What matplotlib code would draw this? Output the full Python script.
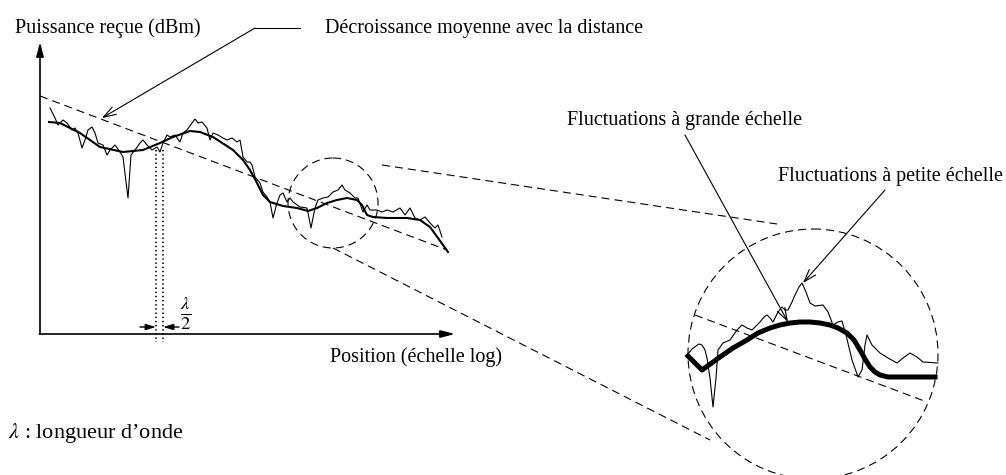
import numpy as np
import matplotlib.pyplot as plt
from matplotlib.patches import Circle

plt.rcParams['font.family'] = ['Liberation Serif', 'DejaVu Serif']
plt.rcParams['mathtext.fontset'] = 'stix'
plt.rcParams['lines.scale_dashes'] = False

# main plot: slow (shadowing) curve
slow_x = [49, 60, 80, 100, 123, 143, 160, 173, 190, 200, 213, 233, 243, 250, 257, 263, 270, 283,
          297, 308, 317, 327, 337, 347, 357, 362, 367, 373, 387, 407, 420, 430, 438, 448]
slow_y = [122, 123, 133, 147, 152, 150, 143, 137, 131, 132, 137, 150, 160, 170, 183, 195, 202, 206,
          208, 211, 208, 203, 200, 198, 200, 205, 215, 217, 218, 218, 220, 227, 238, 252]

# main plot: fast fading curve
fast_x = [50, 55, 58, 63, 67, 72, 75, 78, 82, 85, 88, 92, 95, 98, 103, 107, 110, 115, 120, 123,
          128, 131, 135, 140, 143, 147, 152, 157, 160, 163, 167, 170, 175, 180, 183, 187, 192, 195,
          198, 202, 207, 210, 213, 218, 223, 227, 232, 237, 240, 243, 247, 250, 252, 255, 260, 263,
          267, 270, 273, 277, 280, 283, 287, 290, 293, 300, 307, 311, 315, 318, 323, 328, 333, 338,
          342, 345, 350, 355, 358, 363, 367, 370, 377, 382, 387, 393, 400, 405, 410, 415, 420, 425,
          430, 435, 438, 442]
fast_y = [108, 118, 125, 120, 123, 130, 128, 133, 148, 140, 130, 127, 133, 143, 145, 155, 150, 145,
          152, 157, 198, 155, 150, 143, 140, 145, 150, 147, 152, 143, 135, 137, 135, 142, 133, 130,
          123, 119, 123, 122, 128, 140, 133, 135, 138, 140, 138, 142, 140, 157, 162, 162, 165, 177,
          183, 192, 197, 202, 218, 203, 195, 193, 202, 198, 202, 207, 208, 228, 208, 200, 198, 197,
          192, 190, 185, 190, 193, 198, 198, 212, 205, 210, 210, 212, 210, 212, 208, 215, 208, 218,
          220, 217, 223, 228, 225, 237]

# zoomed view: slow curve
zslow_x = [688, 702, 720, 733, 747, 758, 770, 780, 790, 800, 810, 820, 830, 838, 847, 854, 860,
           865, 870, 875, 880, 888, 897, 935]
zslow_y = [356, 370, 357, 348, 340, 333, 328, 325, 323, 322, 322, 323, 325, 328, 333, 340, 350,
           359, 367, 372, 375, 377, 377, 377]

# zoomed view: fast curve
zfast_x = [688, 692, 696, 699, 702, 705, 707, 710, 713, 716, 718, 723, 730, 737, 742, 747, 752,
           756, 760, 764, 767, 770, 773, 778, 782, 785, 788, 792, 795, 799, 802, 806, 810, 815,
           823, 828, 833, 838, 842, 846, 852, 858, 862, 865, 867, 872, 880, 888, 897, 903, 910,
           917, 923, 938]
zfast_y = [354, 349, 346, 344, 345, 350, 358, 378, 407, 378, 350, 343, 340, 330, 325, 328, 330,
           326, 322, 317, 315, 318, 322, 312, 307, 310, 310, 302, 295, 287, 283, 292, 303, 306,
           305, 312, 325, 322, 321, 335, 360, 377, 370, 345, 335, 345, 353, 358, 363, 358, 353,
           357, 362, 363]

# mean decay lines
trend_x = [40, 447]
trend_y = [96, 250]
ztrend_x = [695, 927]
ztrend_y = [315, 402]

# zoom projection lines and circles
proj_top_x = [382, 777]
proj_top_y = [165, 224]
proj_bot_x = [333, 710]
proj_bot_y = [248, 440]
small_circle = (333, 203, 45)
big_circle = (813, 354, 125)

# half-wavelength markers
half_wave_x = [156, 163]
half_wave_y = [150, 342]

dash = (0, (5.8, 3.6))

fig = plt.figure(figsize=(10.06, 4.75), dpi=100)
ax = fig.add_axes([0, 0, 1, 1])
ax.set_xlim(0, 1006)
ax.set_ylim(475, 0)
ax.axis('off')

# axes arrows
ax.annotate('', xy=(40, 42), xytext=(40, 334),
            arrowprops=dict(arrowstyle='-|>,head_length=0.85,head_width=0.22', lw=1.2, color='black',
                            shrinkA=0, shrinkB=0))
ax.annotate('', xy=(455, 334), xytext=(39.4, 334),
            arrowprops=dict(arrowstyle='-|>,head_length=0.85,head_width=0.22', lw=1.2, color='black',
                            shrinkA=0, shrinkB=0))

ax.plot(trend_x, trend_y, color='black', lw=0.8, ls=dash)
ax.plot(proj_top_x, proj_top_y, color='black', lw=0.8, ls=dash)
ax.plot(proj_bot_x, proj_bot_y, color='black', lw=0.8, ls=dash)
ax.plot(ztrend_x, ztrend_y, color='black', lw=0.8, ls=dash)
for cx, cy, r in [small_circle, big_circle]:
    ax.add_patch(Circle((cx, cy), r, fill=False, lw=0.8, ls=dash, ec='black'))

ax.plot(fast_x, fast_y, color='black', lw=0.8)
ax.plot(slow_x, slow_y, color='black', lw=1.5)
ax.plot(zfast_x, zfast_y, color='black', lw=0.8)
ax.plot(zslow_x, zslow_y, color='black', lw=3.6, solid_joinstyle='round')

for x in half_wave_x:
    ax.plot([x, x], half_wave_y, color='black', lw=1.2, ls=(0, (1.0, 2.0)))
ax.annotate('', xy=(156, 327), xytext=(140, 327),
            arrowprops=dict(arrowstyle='-|>,head_length=0.6,head_width=0.18', lw=1.0, color='black',
                            shrinkA=0, shrinkB=0))
ax.annotate('', xy=(163, 327), xytext=(179, 327),
            arrowprops=dict(arrowstyle='-|>,head_length=0.6,head_width=0.18', lw=1.0, color='black',
                            shrinkA=0, shrinkB=0))
ax.text(180, 313, r'$\frac{\lambda}{2}$', fontsize=19, ha='left', va='center')

# labels and pointers
fs = 14.5
ax.text(15, 28, 'Puissance reçue (dBm)', fontsize=fs, ha='left', va='center')
ax.text(325, 28, 'Décroissance moyenne avec la distance', fontsize=fs, ha='left', va='center')
ax.plot([300, 255], [28, 28], color='black', lw=0.8)
ax.annotate('', xy=(102, 118), xytext=(255, 28),
            arrowprops=dict(arrowstyle='->,head_length=0.9,head_width=0.3', lw=0.8, color='black',
                            shrinkA=0, shrinkB=0))
ax.text(330, 357, 'Position (échelle log)', fontsize=fs, ha='left', va='center')
ax.text(567, 121, 'Fluctuations à grande échelle', fontsize=fs, ha='left', va='center')
ax.annotate('', xy=(788, 322), xytext=(685, 135),
            arrowprops=dict(arrowstyle='->,head_length=0.9,head_width=0.3', lw=0.8, color='black',
                            shrinkA=0, shrinkB=0))
ax.text(778, 176, 'Fluctuations à petite échelle', fontsize=fs, ha='left', va='center')
ax.annotate('', xy=(803, 283), xytext=(885, 190),
            arrowprops=dict(arrowstyle='->,head_length=0.9,head_width=0.3', lw=0.8, color='black',
                            shrinkA=0, shrinkB=0))
ax.text(8, 433, r'$\lambda$ : longueur d’onde', fontsize=16, ha='left', va='center')

fig.savefig('out.png', dpi=100)
